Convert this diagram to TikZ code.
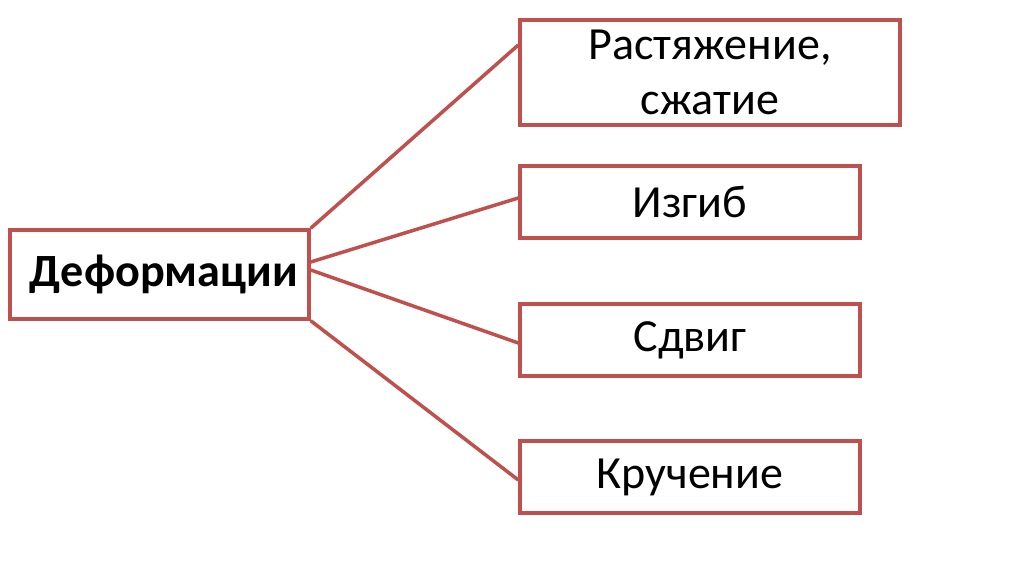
\documentclass[tikz,border=0pt]{standalone}
\usepackage{fontspec}
\setmainfont{Carlito}
\usepackage{xcolor}
\usetikzlibrary{calc}
\definecolor{defred}{HTML}{C0504D}
\tikzset{
  kind/.style    ={draw=defred, line width=2pt, fill=white, inner sep=0pt,
                   align=center, font=\fontsize{26.2}{31.5}\selectfont},
  rootbox/.style ={kind, minimum width=5.98cm, minimum height=1.78cm,
                   font=\fontsize{26.3}{30}\selectfont\bfseries},
  widebox/.style ={kind, minimum width=7.6cm, minimum height=2.1cm},
  leafbox/.style ={kind, minimum width=6.8cm, minimum height=1.44cm},
  link/.style    ={draw=defred, line width=2pt},
}

\begin{document}
\begin{tikzpicture}[x=0.02cm, y=-0.02cm]
  \useasboundingbox[fill=white] (0,0) rectangle (1024,574);

  \node[rootbox] (def) at (159.5,274.5) {\hspace*{0.18cm}Деформации};

  \node[widebox] (tension) at (710,72.5) {Растяжение,\\сжатие};
  \node[leafbox] (bend)    at (690,202)  {Изгиб};
  \node[leafbox] (shear)   at (690,340)  {Сдвиг};
  \node[leafbox] (torsion) at (690,477)  {Кручение};

  \draw[link] (def.north east) -- ($(tension.west)+(0,-27.5)$);
  \draw[link] ($(def.east)+(0,-12.5)$) -- ($(bend.west)+(0,-4)$);
  \draw[link] ($(def.east)+(0,-4.5)$) -- ($(shear.west)+(0,3)$);
  \draw[link] (def.south east) -- ($(torsion.west)+(0,3)$);
\end{tikzpicture}
\end{document}
